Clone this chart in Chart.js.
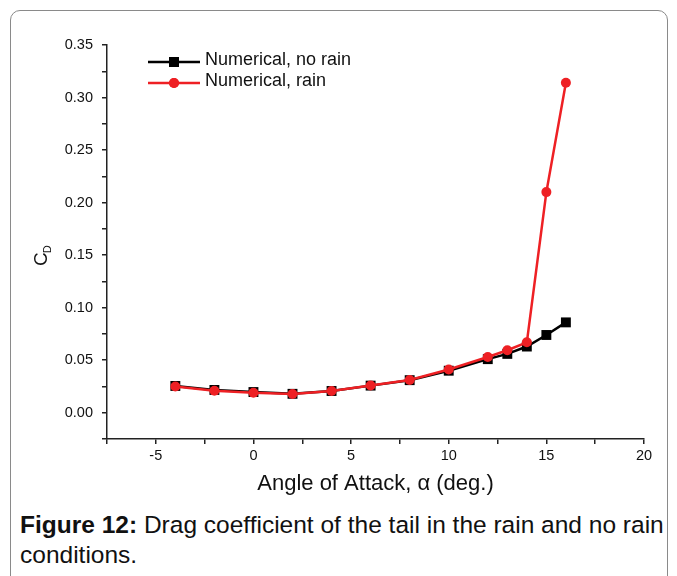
<!DOCTYPE html>
<html>
<head>
<meta charset="utf-8">
<script src="https://cdn.jsdelivr.net/npm/chart.js@4/dist/chart.umd.min.js"></script>
<style>
  html, body { margin: 0; padding: 0; background: #fff; }
  body { width: 677px; height: 576px; position: relative; overflow: hidden; font-family: "Liberation Sans", Arial, sans-serif; }
  #frame { position: absolute; left: 10px; top: 10px; width: 656px; height: 620px; border: 1.5px solid #8a8a8a; border-radius: 10px; }
  #wrap { position: absolute; left: 0; top: 0; width: 677px; height: 500px; }
  #caption { position: absolute; left: 20px; top: 510px; width: 655px; font-size: 24.5px; line-height: 30px; color: #111; }
</style>
</head>
<body>
<div id="frame"></div>
<div id="wrap"><canvas id="dragChart"></canvas></div>
<div id="caption"><b>Figure 12:</b> Drag coefficient of the tail in the rain and no rain conditions.</div>
<script>
const angles = [-4, -2, 0, 2, 4, 6, 8, 10, 12, 13, 14, 15, 16];
const cdNoRain = [0.0255, 0.0217, 0.0197, 0.0180, 0.0207, 0.0258, 0.0310, 0.0400, 0.0510, 0.0560, 0.0630, 0.0740, 0.0860];
const cdRain = [0.0250, 0.0210, 0.0190, 0.0178, 0.0207, 0.0260, 0.0312, 0.0412, 0.0530, 0.0595, 0.0670, 0.2100, 0.3140];
const seriesNames = ["Numerical, no rain", "Numerical, rain"];

const toPoints = (ys) => angles.map((x, i) => ({ x: x, y: ys[i] }));

// legend drawn inside the plot, line + marker like the original
const lineLegend = {
  id: "lineLegend",
  afterDraw(chart) {
    const ctx = chart.ctx;
    const rows = chart.data.datasets;
    ctx.save();
    rows.forEach((ds, i) => {
      const y = 62 + i * 21;
      ctx.strokeStyle = ds.borderColor;
      ctx.lineWidth = ds.borderWidth;
      ctx.beginPath();
      ctx.moveTo(148, y);
      ctx.lineTo(200, y);
      ctx.stroke();
      ctx.fillStyle = ds.pointBackgroundColor;
      Chart.helpers.drawPoint(ctx, { pointStyle: ds.pointStyle, radius: ds.pointRadius, rotation: 0, borderWidth: 0 }, 174, y);
      ctx.fill();
      ctx.fillStyle = "#111";
      ctx.font = "18px 'Liberation Sans', Arial, sans-serif";
      ctx.textBaseline = "middle";
      ctx.fillText(ds.label, 205, y - 2);
    });
    ctx.restore();
  }
};

// y title with subscript: C_D
const yTitle = {
  id: "yTitle",
  afterDraw(chart) {
    const ctx = chart.ctx;
    ctx.save();
    ctx.translate(47, 266);
    ctx.rotate(-Math.PI / 2);
    ctx.fillStyle = "#111";
    ctx.textBaseline = "alphabetic";
    ctx.font = "19px 'Liberation Sans', Arial, sans-serif";
    ctx.fillText("C", 0, 0);
    const w = ctx.measureText("C").width;
    ctx.font = "11px 'Liberation Sans', Arial, sans-serif";
    ctx.fillText("D", w - 1, 4);
    ctx.restore();
  }
};

const tickFont = { family: "'Liberation Sans', Arial, sans-serif", size: 14.5 };

const ctx = document.getElementById("dragChart").getContext("2d");
new Chart(ctx, {
  type: "line",
  data: {
    datasets: [
      {
        label: seriesNames[0],
        data: toPoints(cdNoRain),
        borderColor: "#000",
        backgroundColor: "#000",
        pointBackgroundColor: "#000",
        pointBorderWidth: 0,
        borderWidth: 2.5,
        pointStyle: "rect",
        pointRadius: 7,
        order: 2
      },
      {
        label: seriesNames[1],
        data: toPoints(cdRain),
        borderColor: "#ee2024",
        backgroundColor: "#ee2024",
        pointBackgroundColor: "#ee2024",
        pointBorderWidth: 0,
        borderWidth: 2.5,
        pointStyle: "circle",
        pointRadius: 5,
        order: 1
      }
    ]
  },
  options: {
    responsive: true,
    maintainAspectRatio: false,
    animation: false,
    layout: { padding: { left: 0, right: 33, top: 45, bottom: 0 } },
    plugins: {
      legend: { display: false },
      tooltip: { enabled: false }
    },
    scales: {
      x: {
        type: "linear",
        min: -7.5,
        max: 20,
        afterFit: (scale) => { scale.height = 61; },
        border: { display: true, color: "#222", width: 1.5 },
        grid: { drawOnChartArea: false, drawTicks: true, tickLength: 5, color: "#222", lineWidth: 1.5 },
        ticks: {
          stepSize: 2.5,
          padding: 3,
          color: "#111",
          font: tickFont,
          maxRotation: 0,
          autoSkip: false,
          callback: (v) => (Math.abs(v % 5) < 1e-9 ? String(v) : "")
        },
        title: {
          display: true,
          text: "Angle of Attack, \u03b1 (deg.)",
          color: "#111",
          font: { family: "'Liberation Sans', Arial, sans-serif", size: 22 },
          padding: { top: 6, bottom: 3 }
        }
      },
      y: {
        min: -0.025,
        max: 0.35,
        afterFit: (scale) => { scale.width = 107; },
        border: { display: true, color: "#222", width: 1.5 },
        grid: { drawOnChartArea: false, drawTicks: true, tickLength: 5, color: "#222", lineWidth: 1.5 },
        ticks: {
          stepSize: 0.025,
          padding: 9,
          color: "#111",
          font: tickFont,
          autoSkip: false,
          callback: (v) => {
            const m = Math.round(v * 1000);
            return m >= 0 && m % 50 === 0 ? v.toFixed(2) : "";
          }
        }
      }
    }
  },
  plugins: [lineLegend, yTitle]
});
</script>
</body>
</html>
